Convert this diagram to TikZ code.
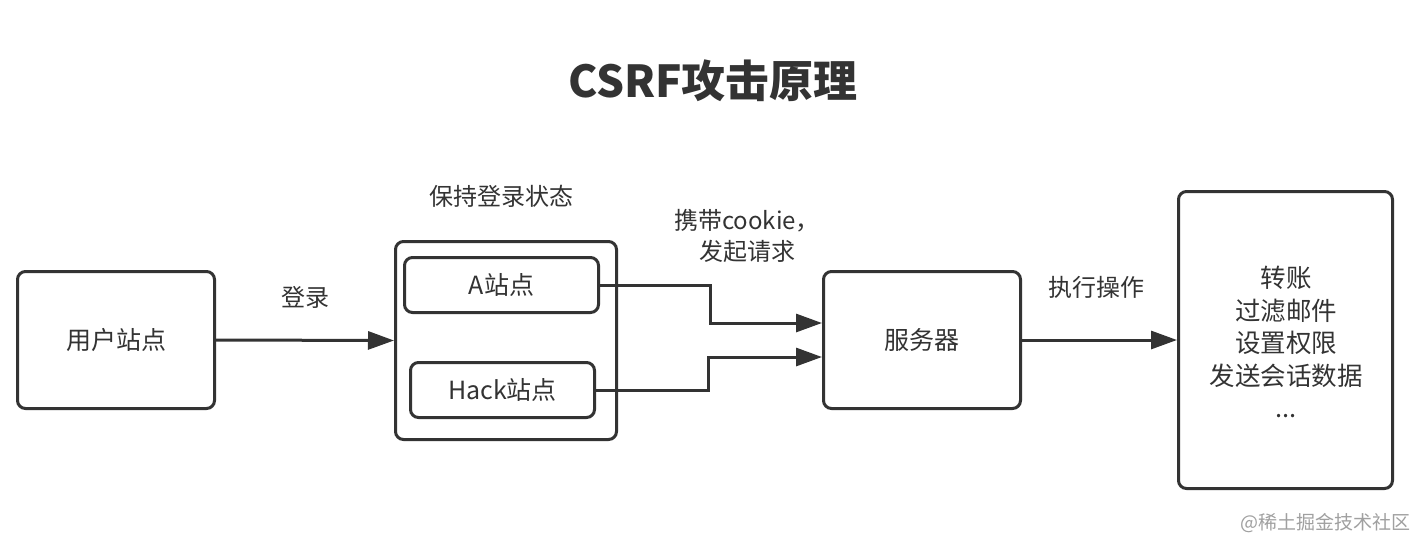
\documentclass[tikz,border=0pt]{standalone}
\usepackage{fontspec}
\setmainfont{Noto Sans CJK SC}
\usetikzlibrary{arrows.meta}
\definecolor{ink}{HTML}{333333}
\definecolor{wm}{HTML}{A0A0A0}
\begin{document}
\begin{tikzpicture}[x=1pt,y=-1pt,
  box/.style={draw=ink,line width=3pt,rounded corners=8pt,inner sep=0pt,text=ink,font=\fontsize{25}{32}\selectfont,align=center},
  lbl/.style={text=ink,font=\fontsize{24}{31}\selectfont,align=center,inner sep=0pt},
  arr/.style={draw=ink,line width=3pt,-{Triangle[length=26pt,width=18pt]}}]
\useasboundingbox (0,0) rectangle (1422,550);
\fill[white] (0,0) rectangle (1422,550);
\node[text=ink,font=\fontsize{44}{50}\selectfont\bfseries,inner sep=0pt] (title) at (713,81) {CSRF攻击原理};
\node[box,minimum width=197pt,minimum height=137pt] (user) at (116,340) {用户站点};
\node[box,minimum width=221pt,minimum height=198pt] (cont) at (506,340.5) {};
\node[box,minimum width=194pt,minimum height=55pt] (a) at (501.5,285) {A站点};
\node[box,minimum width=184pt,minimum height=55pt] (hack) at (502.5,390) {Hack站点};
\node[box,minimum width=197pt,minimum height=137pt] (srv) at (922,340) {服务器};
\node[box,minimum width=214pt,minimum height=297pt] (res) at (1285.5,340) {};
\node[lbl,font=\fontsize{25.5}{32.5}\selectfont,anchor=center] (rt) at (1286,342) {转账\\过滤邮件\\设置权限\\发送会话数据\\...};
\node[lbl] (login) at (305,297) {登录};
\node[lbl] (keep) at (501,196) {保持登录状态};
\node[lbl] (carry) at (747,236) {携带cookie，\\发起请求};
\node[lbl] (exec) at (1096,287) {执行操作};
\node[text=wm,font=\fontsize{19}{22}\selectfont,inner sep=0pt] (wmk) at (1325,523) {@稀土掘金技术社区};
\coordinate (s1) at ([yshift=17pt]srv.west);
\coordinate (s2) at ([yshift=-17pt]srv.west);
\draw[arr] (user.east) -- (cont.west);
\draw[arr] (a.east) -| (710,323) -- (s1);
\draw[arr] (hack.east) -| (708,357) -- (s2);
\draw[arr] (srv.east) -- (res.west);
\end{tikzpicture}
\end{document}
